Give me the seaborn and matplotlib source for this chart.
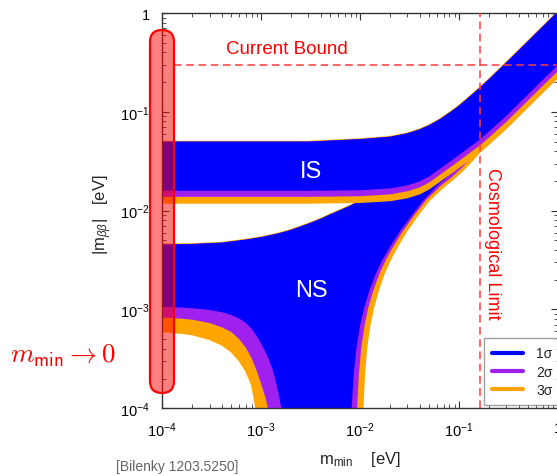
import numpy as np
import matplotlib
matplotlib.use("Agg")
import matplotlib.pyplot as plt
import seaborn as sns
from matplotlib.patches import FancyBboxPatch
from matplotlib.lines import Line2D
from matplotlib.ticker import FuncFormatter, LogLocator
from matplotlib.transforms import IdentityTransform

# --- values (m_min and |m_bb| in eV) ---
# inverted spectrum band
is_x = [1e-4, 0.003, 0.01, 0.02, 0.03, 0.04, 0.05, 0.064, 0.085, 0.1, 0.13, 0.164,
        0.2, 0.3, 0.5, 0.7, 1.0]
is_upper = [0.050, 0.050, 0.053, 0.056, 0.0607, 0.0666, 0.0735, 0.0844, 0.1026, 0.116, 0.145,
            0.178, 0.214, 0.316, 0.523, 0.73, 1.04]
is_lower_1s = [0.0159, 0.0159, 0.0161, 0.0168, 0.0180, 0.0198, 0.0222, 0.0265, 0.0325,
               0.0367, 0.0445, 0.0530, 0.0630, 0.091, 0.151, 0.21, 0.298]
is_lower_2s = [0.0138, 0.0138, 0.0140, 0.0146, 0.0157, 0.0172, 0.0193, 0.0231, 0.0283,
               0.0319, 0.0387, 0.0461, 0.0548, 0.079, 0.131, 0.183, 0.259]
is_lower_3s = [0.0120, 0.0120, 0.0122, 0.0127, 0.0136, 0.0149, 0.0168, 0.0200, 0.0245,
               0.0277, 0.0336, 0.0400, 0.0476, 0.0687, 0.114, 0.159, 0.225]

# normal spectrum band
ns_upper_x = [1e-4, 2e-4, 4e-4, 7e-4, 1e-3, 1.5e-3, 2e-3, 3e-3, 4e-3, 5e-3, 6.5e-3, 8e-3,
              0.01, 0.013, 0.02, 0.05, 0.15, 1.0]
ns_upper_y = [0.00455, 0.0046, 0.00475, 0.0051, 0.0054, 0.0059, 0.0064, 0.0074, 0.0083,
              0.0092, 0.0103, 0.0113, 0.0127, 0.0148, 0.021, 0.05, 0.15, 1.0]

ns_lower_1s_x = [1e-4, 1.5e-4, 2e-4, 3e-4, 4e-4, 5e-4, 6e-4, 7e-4, 8e-4, 9e-4, 1e-3, 1.1e-3,
                 1.2e-3, 1.3e-3, 1.4e-3, 1.5e-3, 1.6e-3, 1.7e-3, 1.8e-3, 1.85e-3,
                 7.8e-3, 8.0e-3, 8.2e-3, 8.6e-3, 9.2e-3, 0.0100, 0.0110, 0.0125, 0.0145,
                 0.017, 0.020, 0.025, 0.033, 0.045, 0.064, 0.085, 0.11, 0.135, 0.164,
                 0.2, 0.3, 0.5, 0.7, 1.0]
ns_lower_1s_y = [1.06e-3, 1.05e-3, 1.03e-3, 9.9e-4, 9.4e-4, 8.8e-4, 8.1e-4, 7.3e-4, 6.4e-4,
                 5.4e-4, 4.5e-4, 3.75e-4, 3.1e-4, 2.5e-4, 1.9e-4, 1.4e-4, 1.0e-4, 6e-5, 2e-5,
                 1e-5, 1e-5, 5e-5, 1.0e-4, 2.2e-4, 4.2e-4, 7.0e-4, 1.05e-3, 1.6e-3, 2.35e-3,
                 3.25e-3, 4.3e-3, 6.1e-3, 8.9e-3, 0.0132, 0.0190, 0.0240, 0.0305, 0.0395,
                 0.0530, 0.0630, 0.091, 0.151, 0.21, 0.298]

ns_lower_2s_x = [1e-4, 1.5e-4, 2e-4, 3e-4, 4e-4, 5e-4, 6e-4, 7e-4, 8e-4, 9e-4, 1e-3, 1.1e-3,
                 1.2e-3, 1.3e-3, 1.38e-3, 8.9e-3, 9.1e-3, 9.3e-3, 9.7e-3, 0.0103, 0.0111,
                 0.0121, 0.0137, 0.0158, 0.0184, 0.0215, 0.0267, 0.035, 0.047, 0.066,
                 0.085, 0.11, 0.135, 0.164, 0.2, 0.3, 0.5, 0.7, 1.0]
ns_lower_2s_y = [8.3e-4, 8.1e-4, 7.9e-4, 7.3e-4, 6.6e-4, 5.9e-4, 5.0e-4, 4.1e-4, 3.2e-4,
                 2.4e-4, 1.75e-4, 1.3e-4, 9e-5, 5e-5, 1e-5, 1e-5, 5e-5, 1.0e-4, 2.2e-4,
                 4.2e-4, 7.0e-4, 1.05e-3, 1.6e-3, 2.35e-3, 3.25e-3, 4.3e-3, 6.1e-3, 8.9e-3,
                 0.013, 0.0180, 0.0220, 0.0280, 0.0360, 0.0461, 0.0548, 0.079, 0.131,
                 0.183, 0.259]

ns_lower_3s_x = [1e-4, 1.5e-4, 2e-4, 3e-4, 4e-4, 5e-4, 6e-4, 7e-4, 8e-4, 8.5e-4, 8.9e-4,
                 9.5e-4, 1e-3, 0.0101, 0.0104, 0.0106, 0.0110, 0.0116, 0.0125, 0.0136,
                 0.0153, 0.0175, 0.0203, 0.0236, 0.029, 0.0378, 0.050, 0.070, 0.09, 0.11,
                 0.135, 0.164, 0.2, 0.3, 0.5, 0.7, 1.0]
ns_lower_3s_y = [6.0e-4, 5.8e-4, 5.6e-4, 5.0e-4, 4.4e-4, 3.75e-4, 3.05e-4, 2.4e-4, 1.75e-4,
                 1.3e-4, 1.0e-4, 5e-5, 1e-5, 1e-5, 5e-5, 1.0e-4, 2.2e-4, 4.2e-4, 7.0e-4,
                 1.05e-3, 1.6e-3, 2.35e-3, 3.25e-3, 4.3e-3, 6.1e-3, 8.9e-3, 0.0128, 0.0175,
                 0.0215, 0.0258, 0.0320, 0.0400, 0.0476, 0.0687, 0.114, 0.159, 0.225]

current_bound = 0.3
cosmo_limit = 0.164
sigma_labels = ["1σ", "2σ", "3σ"]
sigma_colors = ["#0000ff", "#a020f0", "#ffa500"]

sns.set_theme(style="ticks")
plt.rcParams["font.family"] = ["Liberation Sans", "DejaVu Sans"]
plt.rcParams["mathtext.fontset"] = "custom"
plt.rcParams["mathtext.rm"] = "Liberation Sans"
plt.rcParams["mathtext.it"] = "Liberation Sans:italic"
plt.rcParams["mathtext.sf"] = "Liberation Sans"

fig = plt.figure(figsize=(5.57, 4.77), dpi=100)
ax = fig.add_axes([0.2914, 0.1419, 0.7104, 0.8287])
ax.set_xscale("log")
ax.set_yscale("log")


def band(ux, uy, lx, ly, color, edge=0.0):
    xs = list(ux) + list(lx)[::-1]
    ys = list(uy) + list(ly)[::-1]
    ax.fill(xs, ys, facecolor=color, edgecolor=color, lw=edge, zorder=1)


# normal spectrum: 3s, 2s, 1s
band(ns_upper_x, ns_upper_y, ns_lower_3s_x, ns_lower_3s_y, sigma_colors[2], 1.2)
band(ns_upper_x, ns_upper_y, ns_lower_2s_x, ns_lower_2s_y, sigma_colors[1])
band(ns_upper_x, ns_upper_y, ns_lower_1s_x, ns_lower_1s_y, sigma_colors[0])
# inverted spectrum on top
band(is_x, is_upper, is_x, is_lower_3s, sigma_colors[2], 1.2)
band(is_x, is_upper, is_x, is_lower_2s, sigma_colors[1])
band(is_x, is_upper, is_x, is_lower_1s, sigma_colors[0])

ax.set_xlim(1e-4, 1)
ax.set_ylim(1e-4, 1)

# bounds
ax.axhline(current_bound, xmin=0.03, color="#ff3b3b", lw=1.1, ls=(0, (5, 3)), zorder=3)
ax.axvline(cosmo_limit, color="#ff3b3b", lw=1.1, ls=(0, (5, 3)), zorder=3)

# ticks
fmt = FuncFormatter(lambda v, p: "1" if abs(np.log10(v)) < 0.01 else r"$10^{%d}$" % int(round(np.log10(v))))
for a in (ax.xaxis, ax.yaxis):
    a.set_major_locator(LogLocator(base=10, numticks=10))
    a.set_minor_locator(LogLocator(base=10, subs=np.arange(2, 10), numticks=20))
    a.set_major_formatter(fmt)
ax.tick_params(which="both", direction="in", top=True, right=True, colors="#333333",
               labelcolor="black", labelsize=10.5, pad=9)
ax.tick_params(which="major", length=5, width=0.8)
ax.tick_params(which="minor", length=3, width=0.6)
for s in ax.spines.values():
    s.set_color("#333333")
    s.set_linewidth(1.0)
ax.grid(False)

# legend
handles = [Line2D([0], [0], color=c, lw=3) for c in sigma_colors]
leg = ax.legend(handles, sigma_labels, loc="lower left", bbox_to_anchor=(0.812, 0.008),
                frameon=True, fancybox=False, fontsize=10, handlelength=2.2,
                borderpad=0.6, labelspacing=0.3, handletextpad=1.0, borderaxespad=0)
leg.get_frame().set_edgecolor("#888888")
leg.get_frame().set_linewidth(1.0)


def fx(px):
    return px / 557.0


def fy(py):
    return 1 - py / 477.0


fig.text(fx(287), fy(49), "Current Bound", color="red", fontsize=13.5, ha="center", va="center")
fig.text(fx(493), fy(244), "Cosmological Limit", color="red", fontsize=13, rotation=270,
         ha="center", va="center")
fig.text(fx(311), fy(172), "IS", color="white", fontsize=17, ha="center", va="center")
fig.text(fx(311), fy(291), "NS", color="white", fontsize=17, ha="center", va="center")
fig.text(fx(103), fy(215), r"$|\mathrm{m}_{\beta\beta}|$   [eV]", fontsize=12, rotation=90,
         ha="center", va="center")
fig.text(fx(360), fy(460), r"$\mathrm{m}_{\mathrm{min}}$    [eV]", fontsize=12,
         ha="center", va="center")
fig.text(fx(63), fy(356), r"$m_{\mathsf{min}} \rightarrow 0$", color="red", fontsize=19.5,
         ha="center", va="center", math_fontfamily="cm")
fig.text(fx(177), fy(467), "[Bilenky 1203.5250]", color="#666666", fontsize=10,
         ha="center", va="center")

# highlight capsule along the m_min -> 0 edge
cap = FancyBboxPatch((150, 477 - 394), 24, 363, boxstyle="round,pad=0,rounding_size=12",
                     transform=IdentityTransform(), facecolor=(1, 0, 0, 0.5),
                     edgecolor="red", lw=1.6, zorder=5)
fig.add_artist(cap)

fig.savefig("out.png", dpi=100)
